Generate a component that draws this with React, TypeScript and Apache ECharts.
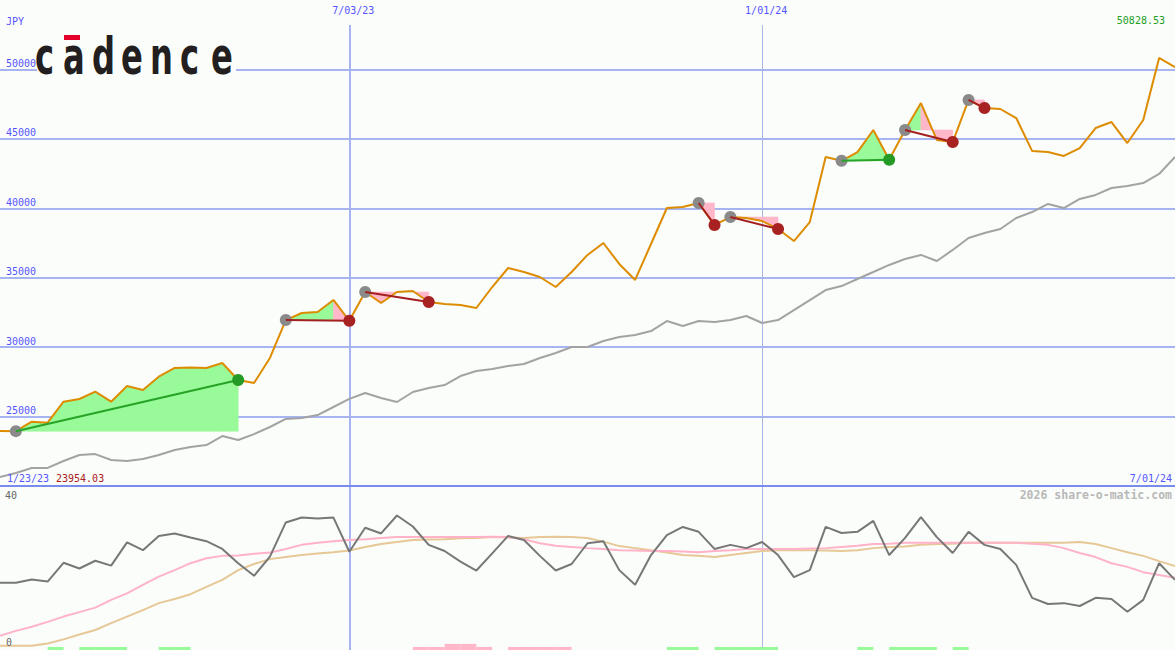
import React, { useEffect, useRef } from "react";
import * as echarts from "echarts";

// ---------- data ----------
const price = [
  23954.03, 23950, 24630, 24560, 26070, 26265, 26790, 26070, 27200, 26910,
  27870, 28500, 28530, 28500, 28860, 27630, 27420, 29220, 31950, 32460,
  32530, 33400, 31900, 33970, 33180, 33970, 34040, 33250, 33110, 33040,
  32820, 34330, 35700, 35410, 35050, 34330, 35410, 36640, 37500, 35990,
  34840, 37430, 40020, 40090, 40380, 38800, 39370, 39300, 39080, 38510,
  37640, 39010, 43690, 43420, 44050, 45640, 43500, 45640, 47580, 44920,
  44770, 47800, 47220, 47150, 46500, 44130, 44050, 43770, 44340, 45780,
  46210, 44700, 46360, 50828.53, 50170,
];

const avg = [
  20650, 20940, 21300, 21300, 21800, 22230, 22300, 21870, 21800, 21940,
  22230, 22590, 22810, 22950, 23600, 23310, 23740, 24250, 24830, 24900,
  25110, 25690, 26270, 26700, 26340, 26050, 26770, 27060, 27270, 27920,
  28280, 28430, 28640, 28790, 29220, 29580, 30010, 30010, 30440, 30730,
  30870, 31160, 31880, 31520, 31880, 31810, 31950, 32240, 31740, 31950,
  32670, 33390, 34110, 34400, 34910, 35410, 35920, 36350, 36640, 36200,
  37000, 37860, 38220, 38510, 39300, 39730, 40310, 40020, 40670, 40960,
  41460, 41600, 41820, 42470, 43690,
];

const osc = [
  16.5, 16.5, 17.3, 16.8, 21.4, 20.0, 21.9, 20.7, 26.4, 24.5,
  28.0, 28.6, 27.6, 26.7, 24.8, 21.3, 18.2, 22.9, 31.3, 32.5,
  32.3, 32.5, 24.1, 30.0, 28.6, 33.0, 30.3, 25.8, 24.3, 21.7,
  19.5, 23.7, 28.0, 27.0, 23.1, 19.5, 21.1, 26.2, 26.7, 19.6,
  16.0, 23.3, 28.2, 30.2, 29.0, 24.8, 25.8, 25.0, 26.5, 23.3,
  17.9, 19.6, 30.2, 28.7, 29.0, 31.7, 23.3, 27.5, 32.6, 27.7,
  23.8, 29.0, 25.8, 24.8, 20.9, 12.8, 11.3, 11.5, 10.8, 12.8,
  12.5, 9.4, 12.3, 21.3, 17.2,
];

const oscFast = [
  3.5, 4.7, 5.7, 6.9, 8.2, 9.3, 10.4, 12.3, 13.9, 16.0,
  18.0, 19.6, 21.3, 22.5, 23.1, 23.2, 23.6, 23.9, 24.8, 25.8,
  26.3, 26.7, 27.0, 27.2, 27.5, 27.7, 27.7, 27.7, 27.7, 27.7,
  27.7, 27.8, 27.7, 27.2, 26.2, 25.6, 25.3, 25.0, 24.8, 24.5,
  24.4, 24.3, 24.3, 24.2, 24.0, 24.3, 24.5, 24.8, 24.8, 24.8,
  24.8, 24.9, 25.0, 25.3, 25.6, 26.0, 26.1, 26.3, 26.3, 26.3,
  26.3, 26.3, 26.3, 26.3, 26.3, 26.1, 25.8, 25.0, 23.8, 22.8,
  21.3, 20.4, 19.1, 18.4, 17.7,
];

const oscSlow = [
  1.05, 1.05, 1.05, 1.6, 2.6, 3.8, 4.9, 6.6, 8.2, 9.8,
  11.5, 12.5, 13.7, 15.5, 17.2, 19.6, 21.1, 22.3, 22.8, 23.3,
  23.7, 24.0, 24.4, 25.3, 26.0, 26.5, 27.0, 27.1, 27.2, 27.4,
  27.5, 27.7, 27.6, 27.5, 27.7, 27.8, 27.7, 27.5, 26.6, 25.5,
  25.0, 24.5, 23.9, 23.3, 23.1, 22.8, 23.3, 23.8, 24.3, 24.5,
  24.5, 24.5, 24.4, 24.3, 24.5, 25.0, 25.3, 25.4, 25.8, 26.0,
  26.1, 26.3, 26.3, 26.3, 26.3, 26.3, 26.3, 26.3, 26.5, 26.0,
  25.0, 24.0, 23.1, 21.8, 20.6,
];

// 1 = green, -1 = pink, -2 = tall pink (interval i .. i+1)
const signal = [
  0, 0, 0, 1, 0, 1, 1, 1, 0, 0,
  1, 1, 0, 0, 0, 0, 0, 0, 0, 0,
  0, 0, 0, 0, 0, 0, -1, -1, -2, -2,
  -1, 0, -1, -1, -1, -1, 0, 0, 0, 0,
  0, 0, 1, 1, 0, 1, 1, 1, 1, 0,
  0, 0, 0, 0, 1, 0, 1, 1, 1, 0,
  1, 0, 0, 0, 0, 0, 0, 0, 0, 0,
  0, 0, 0, 0, 0,
];

// [entry index, exit index, win]
const trades = [
  [1, 15, 1],
  [18, 22, 0],
  [23, 27, 0],
  [44, 45, 0],
  [46, 49, 0],
  [53, 56, 1],
  [57, 60, 0],
  [61, 62, 0],
];

const dateLabels = ["1/23/23", "7/03/23", "1/01/24", "7/01/24"];
const dateIdx = [0, 22, 48, 74];
const firstPriceLabel = "23954.03";
const lastPriceLabel = "50828.53";
const currency = "JPY";
const oscTicks = ["40", "0"];

// ---------- styles ----------
const BG = "#fbfdfb";
const GRID_BLUE = "#a6b5f1";
const TEXT_BLUE = "#5555ff";
const GREEN_FILL = "#98fa98";
const PINK_FILL = "#ffb7c9";
const MONO = "DejaVu Sans Mono";

function vLine(idx: number, top: number, bottom: number, width: number, color: string, label?: string) {
  return [
    {
      coord: [idx, top],
      lineStyle: { color, width, type: "solid" },
      label: label
        ? {
            show: true,
            position: "start",
            formatter: label,
            color: TEXT_BLUE,
            fontFamily: MONO,
            fontSize: 10,
            distance: 9,
            padding: [0, 0, 0, 8],
          }
        : { show: false },
    },
    { coord: [idx, bottom] },
  ];
}

export default function App() {
  const ref = useRef<HTMLDivElement>(null);

  useEffect(() => {
    if (!ref.current) return;
    const chart = echarts.init(ref.current, undefined, { renderer: "svg" });

    const logoLetters = ["c", "a", "d", "e", "n", "c", "e"];
    const logoX = [35, 63, 92, 121, 150, 180, 211];

    const option: any = {
      animation: false,
      backgroundColor: BG,
      textStyle: { fontFamily: MONO },
      grid: [
        { left: 0, right: 0, top: 0, height: 486 },
        { left: 0, right: 0, top: 487, height: 163 },
      ],
      xAxis: [
        { type: "value", gridIndex: 0, min: 0, max: 74, show: false },
        { type: "value", gridIndex: 1, min: 0, max: 74, show: false },
      ],
      yAxis: [
        {
          type: "value",
          gridIndex: 0,
          min: 20000,
          max: 55000,
          interval: 5000,
          axisLine: { show: false },
          axisTick: { show: false },
          axisLabel: {
            inside: true,
            align: "left",
            verticalAlign: "bottom",
            margin: 6,
            color: TEXT_BLUE,
            fontFamily: MONO,
            fontSize: 10,
            padding: [0, 0, 1, 0],
            showMinLabel: false,
            showMaxLabel: false,
            formatter: (v: number) => String(v),
          },
          splitLine: {
            show: true,
            showMinLine: false,
            showMaxLine: false,
            lineStyle: { color: GRID_BLUE, width: 2 },
          },
        },
        { type: "value", gridIndex: 1, min: 0, max: 40, show: false },
      ],
      series: [
        {
          name: "avg",
          type: "line",
          xAxisIndex: 0,
          yAxisIndex: 0,
          data: avg.map((v, i) => [i, v]),
          symbol: "none",
          z: 3,
          lineStyle: { color: "#a3a3a3", width: 2 },
          markLine: {
            silent: true,
            symbol: "none",
            z: 1,
            data: [
              vLine(dateIdx[1], 53200, 20000, 2, GRID_BLUE, dateLabels[1]),
              vLine(dateIdx[2], 53200, 20000, 1, "#aab6e6", dateLabels[2]),
              {
                yAxis: 20000,
                lineStyle: { color: "#7a8bef", width: 2, type: "solid" },
                label: { show: false },
              },
            ],
          },
        },
        {
          name: "fills",
          type: "custom",
          xAxisIndex: 0,
          yAxisIndex: 0,
          z: 2,
          silent: true,
          data: trades.map((t) => [t[0], price[t[0]]]),
          renderItem: (params: any, api: any) => {
            const [a, b, win] = trades[params.dataIndex];
            const level = price[a];
            let peak = a;
            for (let i = a; i <= b; i++) if (price[i] > price[peak]) peak = i;
            const children: any[] = [];
            const poly = (pts: number[][], up: boolean, i: number) => {
              const color = up && (win || i < peak) ? GREEN_FILL : PINK_FILL;
              children.push({
                type: "polygon",
                shape: { points: pts.map((p) => api.coord(p)) },
                style: { fill: color, stroke: color, lineWidth: 0.6 },
              });
            };
            for (let i = a; i < b; i++) {
              const d0 = price[i] - level;
              const d1 = price[i + 1] - level;
              if (d0 * d1 < 0) {
                const xm = i + d0 / (d0 - d1);
                poly([[i, level], [i, price[i]], [xm, level]], d0 > 0, i);
                poly([[xm, level], [i + 1, price[i + 1]], [i + 1, level]], d1 > 0, i);
              } else {
                poly(
                  [[i, level], [i, price[i]], [i + 1, price[i + 1]], [i + 1, level]],
                  d0 + d1 > 0,
                  i
                );
              }
            }
            return { type: "group", children };
          },
        },
        {
          name: "price",
          type: "line",
          xAxisIndex: 0,
          yAxisIndex: 0,
          data: price.map((v, i) => [i, v]),
          symbol: "none",
          z: 4,
          lineStyle: { color: "#dd8c00", width: 2 },
        },
        {
          name: "trades",
          type: "custom",
          xAxisIndex: 0,
          yAxisIndex: 0,
          z: 5,
          silent: true,
          data: trades.map((t) => [t[0], price[t[0]]]),
          renderItem: (params: any, api: any) => {
            const [a, b, win] = trades[params.dataIndex];
            const p0 = api.coord([a, price[a]]);
            const p1 = api.coord([b, price[b]]);
            return {
              type: "group",
              children: [
                { type: "circle", shape: { cx: p0[0], cy: p0[1], r: 6 }, style: { fill: "#8a8a8a" } },
                {
                  type: "line",
                  shape: { x1: p0[0], y1: p0[1], x2: p1[0], y2: p1[1] },
                  style: { stroke: win ? "#27a427" : "#a41f1f", lineWidth: 2 },
                },
                {
                  type: "circle",
                  shape: { cx: p1[0], cy: p1[1], r: 6 },
                  style: { fill: win ? "#259b25" : "#a82222" },
                },
              ],
            };
          },
        },
        {
          name: "oscSlow",
          type: "line",
          xAxisIndex: 1,
          yAxisIndex: 1,
          data: oscSlow.map((v, i) => [i, v]),
          symbol: "none",
          z: 2,
          lineStyle: { color: "#e6c896", width: 2 },
        },
        {
          name: "oscFast",
          type: "line",
          xAxisIndex: 1,
          yAxisIndex: 1,
          data: oscFast.map((v, i) => [i, v]),
          symbol: "none",
          z: 2,
          lineStyle: { color: "#ffb2c8", width: 2 },
        },
        {
          name: "osc",
          type: "line",
          xAxisIndex: 1,
          yAxisIndex: 1,
          data: osc.map((v, i) => [i, v]),
          symbol: "none",
          z: 3,
          lineStyle: { color: "#777777", width: 2 },
          markLine: {
            silent: true,
            symbol: "none",
            z: 1,
            data: [
              vLine(dateIdx[1], 40, 0, 2, GRID_BLUE),
              vLine(dateIdx[2], 40, 0, 1, "#aab6e6"),
            ],
          },
        },
        {
          name: "signal",
          type: "custom",
          xAxisIndex: 1,
          yAxisIndex: 1,
          z: 2,
          silent: true,
          data: signal.map((v, i) => [i, v]),
          renderItem: (params: any, api: any) => {
            const i = params.dataIndex;
            const v = signal[i];
            if (!v) return null;
            const h = Math.abs(v) * 0.75;
            const p0 = api.coord([i, 0]);
            const p1 = api.coord([i + 1, h]);
            return {
              type: "rect",
              shape: { x: p0[0], y: p1[1], width: p1[0] - p0[0], height: p0[1] - p1[1] },
              style: { fill: v > 0 ? GREEN_FILL : PINK_FILL },
            };
          },
        },
      ],
      graphic: [
        { type: "rect", z: 20, shape: { x: 37, y: 34, width: 199, height: 46 }, style: { fill: BG } },
        { type: "rect", z: 21, shape: { x: 64, y: 35, width: 16, height: 5 }, style: { fill: "#e4002b" } },
        ...logoLetters.map((ch, k) => ({
          type: "text",
          z: 21,
          x: logoX[k],
          y: 30,
          scaleX: 0.62,
          style: {
            text: ch,
            fill: "#231f20",
            font: "bold 52px 'DejaVu Sans'",
            textAlign: "left",
            textVerticalAlign: "top",
          },
        })),
        {
          type: "text",
          z: 21,
          x: 6,
          y: 16,
          style: { text: currency, fill: TEXT_BLUE, font: `10px '${MONO}'`, textVerticalAlign: "top" },
        },
        {
          type: "text",
          z: 21,
          x: 1165,
          y: 15,
          style: {
            text: lastPriceLabel,
            fill: "#22a022",
            font: `10px '${MONO}'`,
            textAlign: "right",
            textVerticalAlign: "top",
          },
        },
        {
          type: "text",
          z: 21,
          x: 7,
          y: 473,
          style: { text: dateLabels[0], fill: TEXT_BLUE, font: `10px '${MONO}'`, textVerticalAlign: "top" },
        },
        {
          type: "text",
          z: 21,
          x: 56,
          y: 473,
          style: { text: firstPriceLabel, fill: "#aa2020", font: `10px '${MONO}'`, textVerticalAlign: "top" },
        },
        {
          type: "text",
          z: 21,
          x: 1172,
          y: 473,
          style: {
            text: dateLabels[3],
            fill: TEXT_BLUE,
            font: `10px '${MONO}'`,
            textAlign: "right",
            textVerticalAlign: "top",
          },
        },
        {
          type: "text",
          z: 21,
          x: 1172,
          y: 489,
          style: {
            text: "2026 share-o-matic.com",
            fill: "#b8b8b8",
            font: `bold 11.5px '${MONO}'`,
            textAlign: "right",
            textVerticalAlign: "top",
          },
        },
        {
          type: "text",
          z: 21,
          x: 5,
          y: 490,
          style: { text: oscTicks[0], fill: "#666666", font: `10px '${MONO}'`, textVerticalAlign: "top" },
        },
        {
          type: "text",
          z: 21,
          x: 6,
          y: 637,
          style: { text: oscTicks[1], fill: "#666666", font: `10px '${MONO}'`, textVerticalAlign: "top" },
        },
      ],
    };

    chart.setOption(option);
    return () => chart.dispose();
  }, []);

  return (
    <div
      ref={ref}
      style={{ position: "fixed", left: 0, top: 0, width: 1175, height: 650 }}
    />
  );
}
